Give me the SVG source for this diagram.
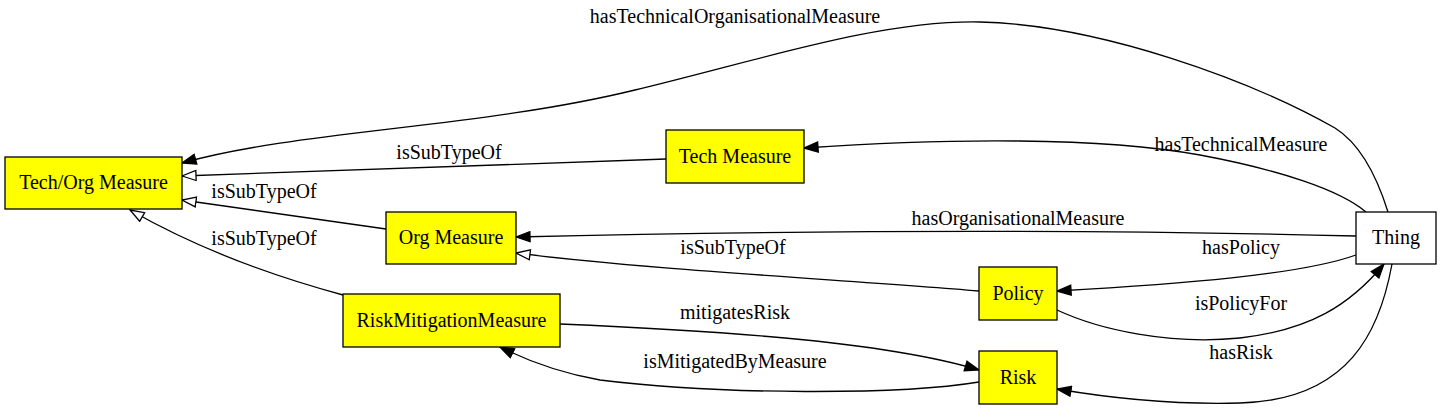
<svg xmlns="http://www.w3.org/2000/svg" width="1441" height="410" viewBox="0 0 1441 410" font-family="'Liberation Serif', 'Times New Roman', serif">
<defs>
<style>
.n rect{fill:#ffff00;stroke:#000;stroke-width:1.3}
.n.w rect{fill:#fff}
text{font-family:'Liberation Serif','Times New Roman',serif;font-size:20px;fill:#000}
.n text{text-anchor:middle}
.l{text-anchor:middle}
.e path{fill:none;stroke:#000;stroke-width:1.3}
</style>
<marker id="af" markerUnits="userSpaceOnUse" markerWidth="16" markerHeight="12" viewBox="0 0 16 12" refX="15" refY="6" orient="auto">
<path d="M1,1 L15,6 L1,11 Z" fill="#000" stroke="#000" stroke-width="1.3"/>
</marker>
<marker id="ah" markerUnits="userSpaceOnUse" markerWidth="16" markerHeight="12" viewBox="0 0 16 12" refX="15" refY="6" orient="auto">
<path d="M1,1 L15,6 L1,11 Z" fill="#fff" stroke="#000" stroke-width="1.3"/>
</marker>
</defs>
<rect width="1441" height="410" fill="#fff"/>
<g id="edges" class="e">
<path d="M1388,212 C1378,180 1362,145 1335,128 C1250,80 1100,25 980,22 C880,20 760,60 635,90 C480,128 300,130 182,163" marker-end="url(#af)"/>
<path d="M1366,212 C1340,190 1280,170 1200,155 C1100,137 950,138 804,148" marker-end="url(#af)"/>
<path d="M1356,236 C1200,232 900,228 516,237" marker-end="url(#af)"/>
<path d="M1356,255 C1300,275 1180,284 1057,291" marker-end="url(#af)"/>
<path d="M1057,310 C1100,330 1170,345 1240,338 C1310,330 1350,305 1384,264" marker-end="url(#af)"/>
<path d="M1392,264 C1380,330 1350,400 1240,403 C1170,405 1110,398 1057,389" marker-end="url(#af)"/>
<path d="M666,159 L182,176" marker-end="url(#ah)"/>
<path d="M386,229 L182,200" marker-end="url(#ah)"/>
<path d="M343,295 C280,278 200,250 130,210" marker-end="url(#ah)"/>
<path d="M979,291 C850,280 650,270 516,253" marker-end="url(#ah)"/>
<path d="M560,324 C700,330 880,340 979,370" marker-end="url(#af)"/>
<path d="M979,382 C900,395 720,395 600,380 C560,373 530,362 500,347" marker-end="url(#af)"/>
<text class="l" x="735" y="23">hasTechnicalOrganisationalMeasure</text>
<text class="l" x="1241" y="151">hasTechnicalMeasure</text>
<text class="l" x="1018" y="225">hasOrganisationalMeasure</text>
<text class="l" x="1241" y="254">hasPolicy</text>
<text class="l" x="1241" y="310">isPolicyFor</text>
<text class="l" x="1241" y="359">hasRisk</text>
<text class="l" x="449" y="159">isSubTypeOf</text>
<text class="l" x="264" y="198">isSubTypeOf</text>
<text class="l" x="264" y="245">isSubTypeOf</text>
<text class="l" x="733" y="254">isSubTypeOf</text>
<text class="l" x="735" y="319">mitigatesRisk</text>
<text class="l" x="735" y="368">isMitigatedByMeasure</text>
</g>
<g id="techorg" class="n"><rect x="5" y="157" width="177" height="52"/><text x="93.5" y="189">Tech/Org Measure</text></g>
<g id="tech" class="n"><rect x="666" y="130" width="138" height="53"/><text x="735" y="163">Tech Measure</text></g>
<g id="org" class="n"><rect x="386" y="212" width="130" height="52"/><text x="451" y="244">Org Measure</text></g>
<g id="rmm" class="n"><rect x="343" y="294" width="217" height="53"/><text x="451.5" y="327">RiskMitigationMeasure</text></g>
<g id="policy" class="n"><rect x="979" y="267" width="78" height="53"/><text x="1018" y="300">Policy</text></g>
<g id="risk" class="n"><rect x="979" y="351" width="78" height="53"/><text x="1018" y="384">Risk</text></g>
<g id="thing" class="n w"><rect x="1356" y="212" width="80" height="52"/><text x="1396" y="244">Thing</text></g>
</svg>
